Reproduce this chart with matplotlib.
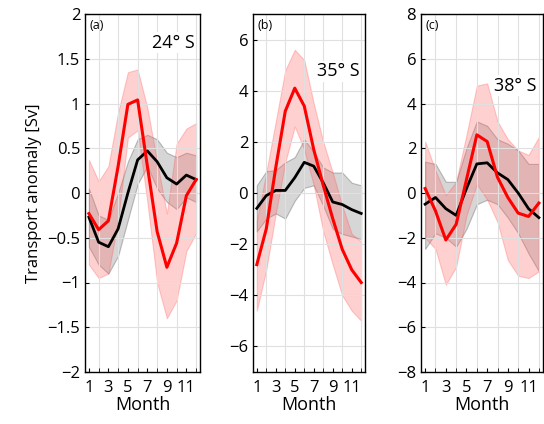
import matplotlib.pyplot as plt
import numpy as np

months = np.arange(1, 13)

# panel (a) 24 S
a_red = [-0.23, -0.41, -0.31, 0.3, 0.99, 1.04, 0.3, -0.43, -0.83, -0.56, -0.03, 0.15]
a_red_hi = [0.37, 0.13, 0.3, 0.9, 1.35, 1.38, 0.95, 0.35, -0.23, 0.55, 0.72, 0.78]
a_red_lo = [-0.8, -0.95, -0.9, -0.3, 0.62, 0.7, -0.1, -1.0, -1.4, -1.2, -0.65, -0.45]
a_blk = [-0.27, -0.55, -0.6, -0.4, 0.0, 0.37, 0.47, 0.35, 0.17, 0.1, 0.2, 0.15]
a_blk_hi = [0.05, -0.25, -0.3, 0.0, 0.35, 0.6, 0.65, 0.6, 0.45, 0.4, 0.45, 0.42]
a_blk_lo = [-0.6, -0.8, -0.9, -0.7, -0.3, 0.1, 0.3, 0.05, -0.1, -0.18, -0.05, -0.1]

# panel (b) 35 S
b_red = [-2.8, -1.4, 1.0, 3.2, 4.1, 3.4, 1.7, 0.3, -1.0, -2.2, -3.0, -3.5]
b_red_hi = [-1.1, 0.8, 2.8, 4.8, 5.6, 5.2, 3.5, 2.0, 0.8, -0.5, -1.6, -1.9]
b_red_lo = [-4.6, -3.0, -0.8, 1.2, 2.6, 1.7, 0.3, -1.5, -2.8, -4.0, -4.6, -5.0]
b_blk = [-0.6, -0.1, 0.1, 0.1, 0.6, 1.2, 1.05, 0.4, -0.35, -0.45, -0.65, -0.8]
b_blk_hi = [0.3, 0.85, 0.9, 1.2, 1.4, 2.1, 1.6, 1.0, 0.8, 0.8, 0.4, 0.3]
b_blk_lo = [-1.5, -1.0, -0.8, -1.0, -0.3, 0.2, 0.3, -0.5, -1.4, -1.6, -1.7, -1.8]

# panel (c) 38 S
c_red = [0.2, -0.8, -2.1, -1.4, 0.6, 2.6, 2.3, 0.7, -0.2, -0.9, -1.05, -0.45]
c_red_hi = [2.3, 1.0, -0.1, 0.5, 2.6, 4.8, 4.9, 3.2, 2.4, 1.9, 1.7, 2.5]
c_red_lo = [-2.0, -2.5, -4.1, -3.3, -1.0, 0.4, -0.3, -1.3, -3.0, -3.7, -3.8, -3.5]
c_blk = [-0.5, -0.2, -0.7, -1.0, 0.2, 1.3, 1.35, 0.9, 0.6, 0.0, -0.7, -1.1]
c_blk_hi = [1.4, 1.3, 0.5, 0.5, 2.0, 3.2, 3.0, 2.4, 2.2, 1.9, 1.3, 1.3]
c_blk_lo = [-2.5, -1.8, -2.0, -2.4, -1.6, -0.5, -0.3, -0.5, -1.1, -1.8, -2.7, -3.5]

panels = [
    ("(a)", "24° S", a_red, a_red_hi, a_red_lo, a_blk, a_blk_hi, a_blk_lo, (-2, 2), np.arange(-2, 2.01, 0.5), 0.92),
    ("(b)", "35° S", b_red, b_red_hi, b_red_lo, b_blk, b_blk_hi, b_blk_lo, (-7, 7), np.arange(-6, 7, 2), 0.84),
    ("(c)", "38° S", c_red, c_red_hi, c_red_lo, c_blk, c_blk_hi, c_blk_lo, (-8, 8), np.arange(-8, 9, 2), 0.80),
]
lefts = [85, 253, 421]
widths = [115, 112, 122]

plt.rcParams['font.family'] = ['Open Sans', 'DejaVu Sans']
fig = plt.figure(figsize=(5.44, 4.24), dpi=100)
for i, (tag, lat, r, rh, rl, k, kh, kl, ylim, yt, ly) in enumerate(panels):
    ax = fig.add_axes([lefts[i] / 544, 1 - 372 / 424, widths[i] / 544, (372 - 14) / 424])
    ax.fill_between(months, kl, kh, color='0.55', alpha=0.35, lw=0.8, edgecolor='0.3')
    ax.fill_between(months, rl, rh, color='#ff6666', alpha=0.3, lw=0.8, edgecolor='#ff5555')
    ax.plot(months, k, color='black', lw=2)
    ax.plot(months, r, color='red', lw=2.2)
    ax.set_xlim(0.6, 12.4)
    ax.set_ylim(*ylim)
    ax.set_xticks(months, minor=True)
    ax.set_xticks([1, 3, 5, 7, 9, 11])
    ax.set_yticks(yt)
    ax.set_yticklabels([f"{v:g}".replace('-', '\u2212') for v in yt])
    ax.grid(True, which='major', axis='y', color='0.88', lw=0.8)
    ax.grid(True, which='minor', axis='x', color='0.88', lw=0.8)
    ax.tick_params(labelsize=12, direction='in', length=3, which='both')
    ax.tick_params(axis='x', pad=6)
    for s in ax.spines.values():
        s.set_linewidth(1)
    ax.text(0.04, 0.985, tag, transform=ax.transAxes, va='top', fontsize=9)
    ax.text(0.95, ly, lat, transform=ax.transAxes, va='center', ha='right', fontsize=13,
            bbox=dict(facecolor='white', edgecolor='none', pad=1))
    ax.set_xlabel("Month", fontsize=13, labelpad=0)
    if i == 0:
        ax.set_ylabel("Transport anomaly [Sv]", fontsize=12)
fig.savefig("out.png", dpi=100)
